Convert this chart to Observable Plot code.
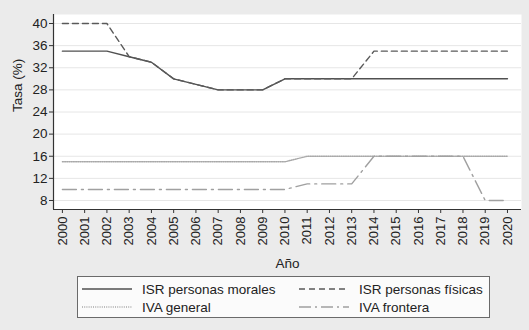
<!DOCTYPE html>
<html>
<head>
<meta charset="utf-8">
<script src="https://cdn.jsdelivr.net/npm/d3@7"></script>
<script src="https://cdn.jsdelivr.net/npm/@observablehq/plot@0.6"></script>
<style>
  html, body { margin: 0; padding: 0; background: #ebebeb; }
  #wrap { width: 529px; height: 330px; background: #ebebeb; position: relative; overflow: hidden; font-family: "Liberation Sans", Arial, sans-serif; }
  #legend { position: absolute; left: 77px; top: 276px; width: 413px; height: 42px; background: #fbfbfb; border: 1px solid #6a6a6a; box-sizing: border-box; }
  .item { position: absolute; height: 18px; display: flex; align-items: center; font-size: 13.5px; color: #222; }
  .item svg { margin-right: 10px; }
</style>
</head>
<body>
<div id="wrap"><div id="chart"></div><div id="legend"></div></div>
<script>
const years = d3.range(2000, 2021);
const seriesNames = ["ISR personas morales", "ISR personas físicas", "IVA general", "IVA frontera"];
const isrMorales = [35,35,35,34,33,30,29,28,28,28,30,30,30,30,30,30,30,30,30,30,30];
const isrFisicas = [40,40,40,34,33,30,29,28,28,28,30,30,30,30,35,35,35,35,35,35,35];
const ivaGeneral = [15,15,15,15,15,15,15,15,15,15,15,16,16,16,16,16,16,16,16,16,16];
const ivaFrontera = [10,10,10,10,10,10,10,10,10,10,10,11,11,11,16,16,16,16,16,8,8];
const yTicks = [8,12,16,20,24,28,32,36,40];

const styles = [
  {stroke: "#505050", dash: null, width: 1.4},
  {stroke: "#5a5a5a", dash: "6,4", width: 1.4},
  {stroke: "#a8a8a8", dash: "1,1.2", width: 1.4},
  {stroke: "#a0a0a0", dash: "14,5,2,5", width: 1.4}
];
const values = [isrMorales, isrFisicas, ivaGeneral, ivaFrontera];
const data = values.map((vals, i) => years.map((y, j) => ({year: y, v: vals[j], s: seriesNames[i]})));

const plot = Plot.plot({
  width: 529,
  height: 272,
  marginLeft: 53,
  marginRight: 8,
  marginTop: 14,
  marginBottom: 63,
  style: {background: "transparent", fontFamily: "Liberation Sans, Arial, sans-serif", fontSize: "13px", color: "#222"},
  x: {domain: [1999.6, 2020.63], ticks: years, tickFormat: d => String(d), tickRotate: -90, tickSize: 4, tickPadding: 3, label: null},
  y: {domain: [6.37, 41.63], ticks: yTicks, tickSize: 4, tickPadding: 2, label: null},
  marks: [
    Plot.frame({fill: "white", stroke: null}),
    Plot.gridY(yTicks, {stroke: "#e6e6e6", strokeOpacity: 1, strokeWidth: 1}),
    ...data.map((d, i) => Plot.line(d, {x: "year", y: "v", stroke: styles[i].stroke, strokeWidth: styles[i].width, strokeDasharray: styles[i].dash})),
    Plot.axisX({ticks: years, tickFormat: d => String(d), tickRotate: -90, tickSize: 4, tickPadding: 3, fontSize: 13, label: null, stroke: "#333"}),
    Plot.axisY({ticks: yTicks, tickSize: 4, tickPadding: 2, fontSize: 13.5, label: null, stroke: "#333"}),
    Plot.ruleY([6.37], {stroke: "#333", strokeWidth: 1.2}),
    Plot.ruleX([1999.6], {stroke: "#333", strokeWidth: 1.2}),
    Plot.text(["Año"], {frameAnchor: "bottom", dy: 58, fontSize: 13.5, fill: "#222"}),
    Plot.text(["Tasa (%)"], {frameAnchor: "left", dx: -36, rotate: -90, fontSize: 13.5, fill: "#222"})
  ]
});
document.getElementById("chart").appendChild(plot);

const legend = document.getElementById("legend");
const pos = [[4, 3], [221, 3], [4, 21], [221, 21]];
seriesNames.forEach((name, i) => {
  const div = document.createElement("div");
  div.className = "item";
  div.style.left = pos[i][0] + "px";
  div.style.top = pos[i][1] + "px";
  const dash = styles[i].dash ? `stroke-dasharray="${i === 3 ? '12,4,2,4' : styles[i].dash}"` : "";
  div.innerHTML = `<svg width="50" height="6"><line x1="0" x2="50" y1="3" y2="3" stroke="${styles[i].stroke}" stroke-width="1.3" ${dash}/></svg><span>${name}</span>`;
  legend.appendChild(div);
});
</script>
</body>
</html>
